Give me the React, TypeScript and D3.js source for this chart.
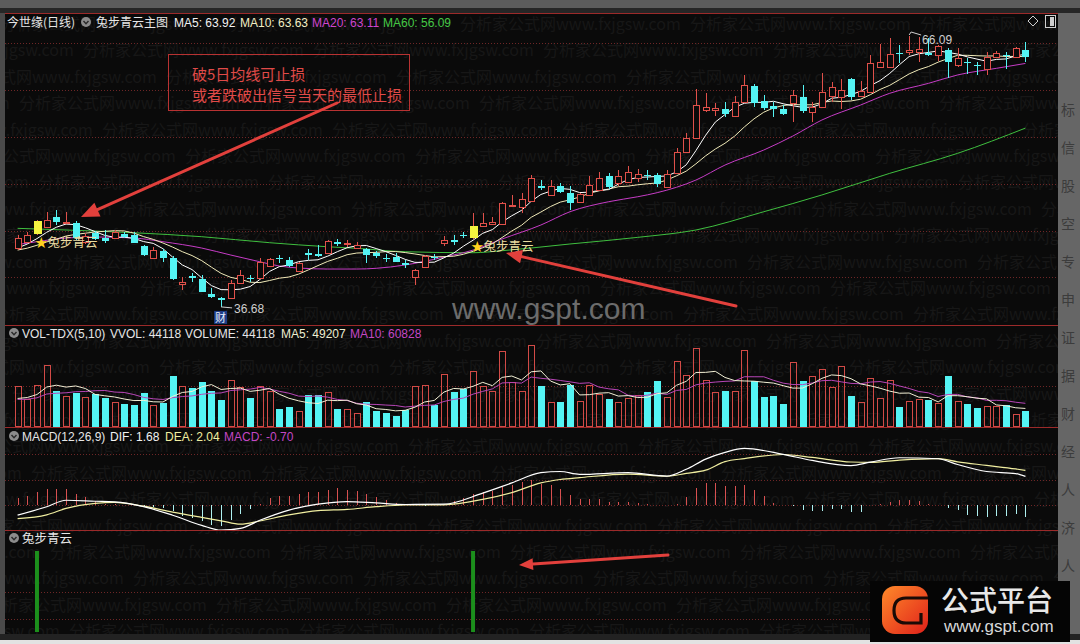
import React from 'react';
import * as d3 from 'd3';

// ---------- daily bars (price) ----------
const closesBefore = [42.4, 42.9, 42.5, 42.8, 42.55, 42.3, 43.1, 42.7, 43.09];
const opens = [
  43.07, 43.76, 44.59, 45.38, 46.4, 45.79, 45.75, 43.72, 44.73, 44.16,
  44.12, 44.59, 44.48, 43.29, 41.95, 42.78, 41.95, 39.16, 40.03, 39.71,
  38.08, 37.64, 37.61, 39.24, 39.87, 39.78, 41.12, 41.99, 41.77, 40.61,
  42.53, 42.42, 42.56, 43.72, 43.51, 43.1, 42.93, 42.56, 42.04, 42.13,
  41.44, 39.95, 40.98, 42.09, 43.58, 43.94, 44.54, 44.12, 45.49, 45.68,
  45.64, 47.58, 47.56, 48.21, 49.8, 48.83, 49.8, 49.01, 48.1, 48.83,
  49.37, 50.89, 50.13, 50.24, 50.67, 51.0, 51.0, 49.69, 51.18, 53.53,
  54.98, 58.06, 58.06, 58.13, 57.4, 58.96, 60.66, 59.03, 58.49, 58.2,
  58.85, 59.5, 57.87, 58.35, 59.58, 59.5, 61.39, 59.61, 60.04, 62.76,
  62.69, 64.24, 64.39, 64.39, 64.28, 64.03, 64.57, 62.94, 63.3, 62.94,
  62.47, 63.84, 64.03, 63.84, 64.57,
];
const highs = [
  44.48, 44.84, 46.11, 47.01, 47.2, 46.95, 46.0, 44.7, 44.92, 45.03,
  45.03, 44.84, 44.81, 43.4, 43.21, 42.96, 42.2, 39.95, 40.36, 40.14,
  38.73, 37.78, 39.6, 40.68, 40.14, 41.95, 41.99, 42.31, 42.06, 41.55,
  42.96, 43.4, 43.94, 44.02, 43.94, 43.76, 43.07, 42.75, 42.42, 42.56,
  41.77, 40.79, 42.31, 42.42, 44.37, 44.48, 44.84, 46.9, 46.9, 46.47,
  48.07, 48.83, 49.04, 51.0, 50.45, 50.45, 50.13, 49.8, 49.04, 50.89,
  51.32, 51.21, 51.54, 51.97, 51.65, 51.54, 51.21, 51.54, 53.9, 55.53,
  60.3, 59.87, 58.78, 58.96, 59.58, 61.86, 60.88, 59.68, 58.96, 58.6,
  60.23, 60.77, 58.96, 62.04, 61.13, 61.39, 61.53, 61.24, 64.03, 65.22,
  65.84, 65.11, 66.09, 65.95, 65.84, 65.11, 64.75, 64.75, 63.67, 63.27,
  64.39, 64.46, 64.39, 64.9, 65.47,
];
const lows = [
  42.85, 43.61, 44.48, 45.3, 45.57, 45.68, 43.94, 43.51, 43.94, 43.58,
  44.05, 44.16, 43.58, 42.2, 41.88, 41.58, 39.6, 38.51, 39.41, 38.29,
  37.7, 36.68, 37.53, 39.16, 39.38, 39.71, 41.01, 41.48, 40.98, 40.52,
  41.77, 42.06, 42.47, 43.29, 43.21, 43.02, 41.41, 42.02, 41.58, 41.55,
  40.87, 39.05, 40.9, 41.77, 43.29, 43.4, 44.12, 44.05, 45.38, 45.57,
  45.57, 47.52, 46.87, 48.12, 49.37, 48.72, 49.04, 47.2, 47.96, 48.72,
  49.26, 49.48, 49.8, 50.13, 50.24, 50.45, 49.69, 49.59, 51.11, 53.39,
  54.91, 57.87, 57.4, 57.33, 57.3, 58.87, 58.41, 58.06, 57.26, 57.51,
  56.78, 57.76, 56.78, 58.27, 58.96, 58.13, 59.14, 59.5, 59.96, 62.72,
  62.62, 63.13, 64.03, 63.23, 63.92, 63.41, 61.5, 62.76, 61.96, 61.86,
  61.86, 63.76, 62.47, 63.76, 63.3,
];
const closes = [
  44.16, 44.48, 46.04, 46.11, 45.86, 45.89, 44.12, 44.37, 44.02, 43.83,
  44.84, 44.23, 43.65, 42.31, 42.85, 41.95, 39.67, 39.38, 39.81, 38.33,
  37.78, 37.48, 39.3, 40.14, 39.76, 41.58, 41.88, 41.88, 41.12, 41.48,
  42.31, 42.2, 43.83, 43.56, 43.61, 43.4, 42.31, 42.2, 41.88, 41.58,
  41.23, 40.68, 42.2, 41.99, 43.94, 43.78, 44.43, 45.46, 45.75, 45.93,
  47.99, 47.74, 48.39, 50.67, 49.64, 49.8, 49.18, 47.92, 48.9, 49.91,
  50.67, 49.69, 50.89, 51.32, 51.11, 50.89, 50.02, 51.11, 53.53, 54.98,
  58.6, 58.35, 58.27, 57.59, 58.96, 60.77, 58.85, 58.24, 58.2, 57.62,
  59.68, 57.98, 58.35, 60.04, 60.59, 60.23, 59.43, 60.15, 63.13, 63.3,
  64.14, 64.14, 64.57, 64.65, 64.03, 65.0, 63.3, 63.67, 63.13, 62.83,
  63.84, 64.28, 63.92, 64.75, 63.78,
];

// longer moving averages, read at selected days
const ma20Days = [0, 2, 5, 8, 12, 15, 19, 22, 25, 27, 29, 32, 35, 37, 40, 44, 47, 50, 54, 57, 61, 64, 66, 70, 73, 77, 80, 83, 87, 90, 94, 97, 101, 104];
const ma20Values = [43.45, 43.76, 44.16, 44.27, 44.16, 43.76, 43.07, 42.31, 41.58, 41.12, 40.9, 40.79, 40.79, 40.87, 41.23, 42.09, 42.85, 44.05, 45.57, 47.01, 48.1, 48.64, 49.08, 50.45, 52.08, 53.71, 55.23, 56.97, 58.6, 59.87, 60.95, 61.86, 62.58, 63.11];
const ma60Days = [0, 5, 12, 19, 26, 32, 35, 40, 47, 50, 57, 64, 70, 77, 83, 90, 97, 104];
const ma60Values = [45.21, 45.03, 44.73, 44.3, 43.65, 43.21, 43.04, 42.67, 42.56, 42.78, 43.51, 44.23, 45.03, 47.01, 48.83, 51.18, 53.35, 56.09];

// ---------- volume ----------
const volumesBefore = [70000, 82000, 68000, 80000, 75000, 65000, 78000, 70000, 75000];
const volumes = [
  117000, 79000, 122000, 180000, 102000, 89000, 96000, 84000, 94000, 81000,
  72000, 66000, 61000, 96000, 61000, 69000, 148000, 119000, 111000, 129000,
  102000, 76000, 134000, 116000, 81000, 119000, 102000, 50000, 56000, 43000,
  91000, 91000, 99000, 49000, 50000, 38000, 72000, 45000, 38000, 30000,
  46000, 117000, 122000, 61000, 153000, 99000, 109000, 162000, 119000, 104000,
  221000, 129000, 104000, 239000, 117000, 72000, 72000, 122000, 74000, 121000,
  94000, 79000, 72000, 81000, 92000, 99000, 132000, 84000, 192000, 150000,
  229000, 134000, 99000, 102000, 104000, 223000, 131000, 84000, 89000, 66000,
  187000, 132000, 148000, 168000, 116000, 177000, 87000, 71000, 140000, 81000,
  134000, 56000, 74000, 79000, 76000, 69000, 148000, 74000, 64000, 54000,
  59000, 59000, 61000, 35000, 44118,
];

// ---------- MACD ----------
const macdHist = [
  0.4, 0.51, 0.75, 0.95, 0.95, 0.95, 0.65, 0.45, 0.24, 0.08,
  0.04, 0.02, -0.02, -0.05, -0.1, -0.16, -0.36, -0.67, -0.77, -0.93,
  -1.17, -1.24, -0.87, -0.53, -0.26, 0.08, 0.4, 0.55, 0.55, 0.65,
  0.75, 0.75, 0.91, 1.01, 0.91, 0.85, 0.65, 0.45, 0.28, 0.14,
  0.05, 0.02, -0.03, 0.02, 0.08, 0.24, 0.4, 0.65, 0.75, 0.85,
  1.05, 1.15, 1.36, 1.5, 1.22, 1.15, 0.95, 0.59, 0.38, 0.34,
  0.38, 0.2, 0.2, 0.16, 0.12, 0.08, 0.02, 0.02, 0.08, 0.49,
  1.01, 1.3, 1.3, 1.11, 1.11, 1.2, 0.89, 0.51, 0.14, 0.02,
  -0.04, -0.32, -0.36, -0.36, -0.22, -0.26, -0.41, -0.43, 0.02, 0.04,
  0.2, 0.28, 0.28, 0.24, 0.08, -0.02, -0.2, -0.32, -0.57, -0.67,
  -0.73, -0.67, -0.63, -0.53, -0.7,
];
const macdDays = [0, 3, 5, 8, 10, 13, 16, 19, 21, 23, 25, 28, 31, 34, 37, 40, 44, 48, 51, 54, 56, 58, 63, 67, 69, 71, 73, 75, 79, 82, 86, 88, 91, 95, 97, 100, 103, 104];
const difValues = [-0.6, -0.1, 0.28, 0.22, 0.18, -0.1, -0.6, -1.2, -1.48, -1.38, -0.9, -0.3, 0.05, 0.2, 0.12, 0.03, 0.05, 0.7, 1.3, 1.9, 1.97, 1.8, 1.9, 1.7, 2.1, 2.7, 3.1, 3.33, 2.98, 2.62, 2.32, 2.52, 2.78, 2.72, 2.38, 1.97, 1.85, 1.68];
const deaValues = [-0.8, -0.58, -0.2, 0.1, 0.16, -0.07, -0.42, -0.73, -0.93, -1.13, -0.94, -0.58, -0.33, -0.26, -0.1, 0.0, 0.01, 0.33, 0.73, 1.3, 1.5, 1.61, 1.82, 1.69, 1.86, 2.05, 2.55, 2.73, 2.97, 2.8, 2.53, 2.51, 2.64, 2.73, 2.54, 2.33, 2.12, 2.04];

// ---------- signal days (兔步青云) ----------
const signalDays = [2, 47];

const mainHeader = [
  { text: '兔步青云主图', color: '#e6e6e6' },
  { text: 'MA5: 63.92', color: '#f2f2f2' },
  { text: 'MA10: 63.63', color: '#f2efc4' },
  { text: 'MA20: 63.11', color: '#cf45cf' },
  { text: 'MA60: 56.09', color: '#45c845' },
];
const volHeader = [
  { text: 'VOL-TDX(5,10)', color: '#e6e6e6' },
  { text: 'VVOL: 44118', color: '#e6e6e6' },
  { text: 'VOLUME: 44118', color: '#e6e6e6' },
  { text: 'MA5: 49207', color: '#eeeed2' },
  { text: 'MA10: 60828', color: '#c447c4' },
];
const macdHeader = [
  { text: 'MACD(12,26,9)', color: '#e6e6e6' },
  { text: 'DIF: 1.68', color: '#f2f2f2' },
  { text: 'DEA: 2.04', color: '#f0eea0' },
  { text: 'MACD: -0.70', color: '#c447c4' },
];
const noteLines = ['破5日均线可止损', '或者跌破出信号当天的最低止损'];
const watermark = '分析家公式网www.fxjgsw.com';
const sideChars = ['标', '信', '股', '空', '专', '申', '证', '据', '财', '经', '人', '济', '人'];

const LATIN = '"Liberation Sans", Arial, "Noto Sans CJK SC", sans-serif';
const CJK = '"Noto Sans CJK SC", "Liberation Sans", sans-serif';
const BG = '#0a0a0a';
const RED = '#e0504a';
const CYAN = '#54f4f4';
const YELLOW = '#f4f440';
const SEP = '#9c2a2a';
const GRID = '#6e2626';

function movingAverage(values: number[], before: number[], n: number): number[] {
  const all = [...before, ...values];
  const off = before.length;
  return values.map((_, i) => d3.mean(all.slice(i + off - n + 1, i + off + 1)) as number);
}

function Arrow({ x1, y1, x2, y2, w = 3, head = 16 }: { x1: number; y1: number; x2: number; y2: number; w?: number; head?: number }) {
  const a = Math.atan2(y2 - y1, x2 - x1);
  const bx = x2 - head * Math.cos(a);
  const by = y2 - head * Math.sin(a);
  const hw = head * 0.42;
  const px = -Math.sin(a) * hw;
  const py = Math.cos(a) * hw;
  return (
    <g>
      <line x1={x1} y1={y1} x2={bx} y2={by} stroke="#e2403c" strokeWidth={w} strokeLinecap="round" />
      <polygon points={`${x2},${y2} ${bx + px},${by + py} ${bx - px},${by - py}`} fill="#e2403c" />
    </g>
  );
}

function Icon({ cx, cy }: { cx: number; cy: number }) {
  return (
    <g>
      <circle cx={cx} cy={cy} r={5} fill="#8c8c8c" />
      <path d={`M${cx - 2.5},${cy - 1} L${cx},${cy + 1.8} L${cx + 2.5},${cy - 1}`} stroke="#2a2a2a" strokeWidth={1.4} fill="none" />
    </g>
  );
}

export default function App() {
  const n = closes.length;
  const x = d3.scalePoint<number>().domain(d3.range(n)).range([17.6, 1025.4]);
  const xi = (i: number) => 17.6 + (i * (1025.4 - 17.6)) / (n - 1);
  const yP = d3.scaleLinear().domain([36.68, 66.09]).range([306.9, 36]);
  const yV = d3.scaleLinear().domain([0, 250000]).range([426, 341]);
  const yM = d3.scaleLinear().domain([0, 3]).range([505, 454]);
  const yS = d3.scaleLinear().domain([0, 1]).range([632, 551]);

  const ma5 = movingAverage(closes, closesBefore, 5);
  const ma10 = movingAverage(closes, closesBefore, 10);
  const vma5 = movingAverage(volumes, volumesBefore, 5);
  const vma10 = movingAverage(volumes, volumesBefore, 10);

  const lineIdx = (ys: (v: number) => number, curve = d3.curveLinear) =>
    d3.line<number>().x((_, i) => x(i) as number).y((v) => ys(v)).curve(curve);
  const linePairs = (ys: (v: number) => number) =>
    d3.line<[number, number]>().x((d) => xi(d[0])).y((d) => ys(d[1])).curve(d3.curveMonotoneX);
  const pairs = (days: number[], vals: number[]) => days.map((d, k) => [d, vals[k]] as [number, number]);

  const mainGrid = [43, 90, 137, 184, 231, 277];
  const volGrid = [386];
  const macdGrid = [454, 480, 505];
  const sigGrid = [592, 619];

  const wmRows = d3.range(24);

  const textRow = (items: { text: string; color: string }[], xs: number[], y: number, size = 12) =>
    items.map((it, k) => (
      <text key={k} x={xs[k]} y={y} fill={it.color} fontSize={size} fontFamily={LATIN}>
        {it.text}
      </text>
    ));

  const lowIdx = d3.minIndex(lows);
  const highIdx = d3.maxIndex(highs);

  return (
    <svg width={1080} height={644} style={{ position: 'fixed', left: 0, top: 0, background: BG }} xmlns="http://www.w3.org/2000/svg">
      <defs>
        <clipPath id="plot">
          <rect x={5} y={14} width={1053} height={620} />
        </clipPath>
        <clipPath id="macdClip">
          <rect x={5} y={428} width={1053} height={102} />
        </clipPath>
        <linearGradient id="logoG" x1="0" y1="0" x2="1" y2="1">
          <stop offset="0" stopColor="#ff8a2a" />
          <stop offset="1" stopColor="#e0201a" />
        </linearGradient>
      </defs>

      {/* window chrome */}
      <rect x={0} y={0} width={1080} height={644} fill={BG} />
      <rect x={0} y={0} width={1080} height={8} fill="#5c5c5c" />
      <rect x={0} y={8} width={1080} height={5} fill="#262626" />
      <rect x={0} y={13} width={5} height={623} fill="#4a4a4a" />
      <rect x={1058} y={13} width={22} height={623} fill="#666" />
      {sideChars.map((c, k) => (
        <text key={k} x={1061} y={115 + k * 38} fontSize={14} fill="#3c3c3c" fontFamily={CJK}>{c}</text>
      ))}
      <rect x={0} y={634} width={1080} height={6} fill="#222" />
      <rect x={0} y={640} width={1080} height={4} fill="#e2e2e2" />

      {/* faint background watermark */}
      <g clipPath="url(#plot)">
        {wmRows.map((k) => {
          const y = 30 + k * 26.4;
          const off = ((k * 83) % 230) - 230;
          return d3.range(6).map((j) => (
            <text key={`${k}-${j}`} x={off + j * 230} y={y} fontSize={16} fill="#171717" fontFamily={CJK}>
              {watermark}
            </text>
          ));
        })}
      </g>

      {/* separators and grids */}
      {[13.5, 325.5, 427.5, 530.5].map((y, k) => (
        <line key={k} x1={5} x2={1058} y1={y} y2={y} stroke={SEP} strokeWidth={1.2} />
      ))}
      {[...mainGrid, ...volGrid, ...macdGrid, ...sigGrid].map((y, k) => (
        <line key={k} x1={5} x2={1058} y1={y + 0.5} y2={y + 0.5} stroke={GRID} strokeDasharray="1 2" />
      ))}

      {/* big site mark */}
      <text x={452} y={319} fontSize={30} fill="#6c6c6c" fontFamily={LATIN}>www.gspt.com</text>

      {/* moving averages */}
      <g clipPath="url(#plot)" fill="none" strokeWidth={1}>
        <path d={linePairs(yP)(pairs(ma60Days, ma60Values)) as string} stroke="#3fbf3f" />
        <path d={linePairs(yP)(pairs(ma20Days, ma20Values)) as string} stroke="#c63cc6" />
        <path d={lineIdx(yP)(ma10) as string} stroke="#efe9b8" />
        <path d={lineIdx(yP)(ma5) as string} stroke="#ffffff" />
      </g>

      {/* candles */}
      <g shapeRendering="crispEdges">
        {closes.map((c, i) => {
          const o = opens[i];
          const px = Math.round(x(i) as number);
          const up = c >= o;
          const sig = signalDays.includes(i);
          const yTop = Math.round(yP(Math.max(o, c)));
          const yBot = Math.round(yP(Math.min(o, c)));
          const yH = Math.round(yP(highs[i]));
          const yL = Math.round(yP(lows[i]));
          const bh = Math.max(1, yBot - yTop);
          if (sig) {
            return (
              <g key={i}>
                <line x1={px + 0.5} x2={px + 0.5} y1={yH} y2={yTop} stroke={RED} />
                <line x1={px + 0.5} x2={px + 0.5} y1={yBot} y2={yL} stroke={RED} />
                <rect x={px - 3} y={yTop} width={8} height={bh} fill={YELLOW} />
              </g>
            );
          }
          if (up) {
            return (
              <g key={i}>
                <line x1={px + 0.5} x2={px + 0.5} y1={yH} y2={yTop} stroke={RED} />
                <line x1={px + 0.5} x2={px + 0.5} y1={yBot} y2={yL} stroke={RED} />
                <rect x={px - 2.5} y={yTop + 0.5} width={6} height={bh} fill={BG} stroke={RED} />
              </g>
            );
          }
          return (
            <g key={i}>
              <line x1={px + 0.5} x2={px + 0.5} y1={yH} y2={yL} stroke={CYAN} />
              <rect x={px - 3} y={yTop} width={7} height={bh} fill={CYAN} />
            </g>
          );
        })}
      </g>

      {/* extreme price marks */}
      <g fontFamily={LATIN} fontSize={12} fill="#cfcfcf">
        <path d={`M${x(highIdx)},${yP(highs[highIdx]) - 1} l2,-3 l10,3`} stroke="#cfcfcf" fill="none" />
        <text x={(x(highIdx) as number) + 13} y={yP(highs[highIdx]) + 8}>{highs[highIdx].toFixed(2)}</text>
        <line x1={x(lowIdx)} y1={yP(lows[lowIdx])} x2={(x(lowIdx) as number) + 11} y2={yP(lows[lowIdx]) + 1} stroke="#cfcfcf" />
        <text x={(x(lowIdx) as number) + 13} y={yP(lows[lowIdx]) + 6}>{lows[lowIdx].toFixed(2)}</text>
      </g>
      <rect x={(x(lowIdx) as number) - 7} y={yP(lows[lowIdx]) + 4} width={13} height={13} fill="#1f3d86" />
      <text x={(x(lowIdx) as number) - 0.5} y={yP(lows[lowIdx]) + 15} fontSize={11} fill="#eaf0ff" textAnchor="middle" fontFamily={CJK}>财</text>

      {/* signal labels */}
      {signalDays.map((d) => (
        <text key={d} x={(x(d) as number) - 2} y={yP(lows[d]) + 12} fontSize={12.5} fontFamily={CJK}>
          <tspan fill="#ffd21e">★</tspan>
          <tspan fill="#eadca0">兔步青云</tspan>
        </text>
      ))}

      {/* volume */}
      <g shapeRendering="crispEdges">
        {volumes.map((v, i) => {
          const px = Math.round(x(i) as number);
          const up = closes[i] >= opens[i];
          const top = Math.round(yV(v));
          return up ? (
            <rect key={i} x={px - 2.5} y={top + 0.5} width={6} height={426 - top} fill="none" stroke="#d24a46" />
          ) : (
            <rect key={i} x={px - 3} y={top} width={7} height={427 - top} fill={CYAN} />
          );
        })}
      </g>
      <g fill="none" strokeWidth={1}>
        <path d={lineIdx(yV)(vma10) as string} stroke="#b846b8" />
        <path d={lineIdx(yV)(vma5) as string} stroke="#f2f0d6" />
      </g>

      {/* MACD */}
      <g shapeRendering="crispEdges">
        {macdHist.map((v, i) => {
          const px = Math.round(x(i) as number) + 0.5;
          return (
            <line key={i} x1={px} x2={px} y1={yM(0)} y2={yM(v)} stroke={v >= 0 ? '#d85050' : '#aef0f0'} strokeWidth={1.3} />
          );
        })}
      </g>
      <g clipPath="url(#macdClip)" fill="none" strokeWidth={1.2}>
        <path d={linePairs(yM)(pairs(macdDays, deaValues)) as string} stroke="#f0eea0" />
        <path d={linePairs(yM)(pairs(macdDays, difValues)) as string} stroke="#ffffff" />
      </g>

      {/* 兔步青云 signal bars */}
      {signalDays.map((d) => (
        <rect key={d} x={(x(d) as number) - 2} y={yS(1)} width={4} height={yS(0) - yS(1)} fill="#1c8f1c" />
      ))}

      {/* headers */}
      <text x={7} y={27} fontSize={12} fill="#e6e6e6" fontFamily={CJK}>今世缘(日线)</text>
      <Icon cx={86} cy={22} />
      <text x={96} y={27} fontSize={12} fill={mainHeader[0].color} fontFamily={CJK}>{mainHeader[0].text}</text>
      {textRow(mainHeader.slice(1), [174, 240, 312, 383], 27)}
      <path d="M1033,16 l5,5 l-5,5 l-5,-5 z" fill="none" stroke="#cfcfcf" />
      <rect x={1045.5} y={15.5} width={10} height={12} fill="none" stroke="#cfcfcf" />
      <rect x={1050} y={17} width={4} height={9} fill="#cfcfcf" />

      <Icon cx={14} cy={333} />
      {textRow(volHeader, [22, 110, 185, 281, 350], 338)}
      <Icon cx={14} cy={436} />
      {textRow(macdHeader, [22, 110, 165, 224], 441)}
      <Icon cx={14} cy={538} />
      <text x={22} y={543} fontSize={12.5} fill="#e6e6e6" fontFamily={CJK}>兔步青云</text>

      {/* note box and arrows */}
      <rect x={168.5} y={54.5} width={241} height={56} fill="none" stroke="#b83232" />
      {noteLines.map((t, k) => (
        <text key={k} x={192} y={80 + k * 21} fontSize={15} fill="#e04a48" fontFamily={CJK}>{t}</text>
      ))}
      <Arrow x1={337} y1={103} x2={81} y2={217} head={18} />
      <Arrow x1={736} y1={306} x2={506} y2={253} head={16} />
      <Arrow x1={668} y1={555} x2={519} y2={565} head={14} />

      {/* site logo */}
      <rect x={870} y={581} width={200} height={61} fill="#050505" />
      <rect x={882} y={586} width={46} height={48} rx={13} fill="url(#logoG)" />
      <path d="M928,598 H906 Q894,598 894,610.5 Q894,623 906,623 H921 V613" stroke="#1a0a06" strokeWidth={3.2} fill="none" />
      <text x={941} y={611} fontSize={28} fill="#e8e8e8" fontWeight={500} fontFamily={CJK}>公式平台</text>
      <text x={944} y={632} fontSize={17} fill="#d8d8d8" fontFamily={LATIN}>www.gspt.com</text>
    </svg>
  );
}
